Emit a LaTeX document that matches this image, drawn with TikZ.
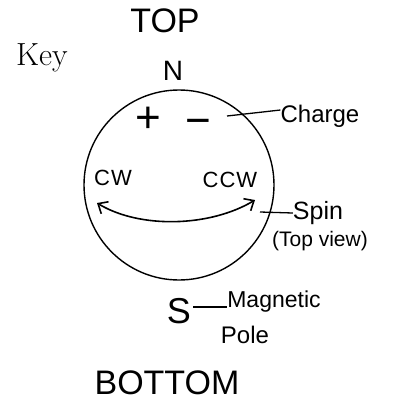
\documentclass[tikz,border=0pt]{standalone}
\usepackage{fontspec}
\newfontfamily\hand{Liberation Sans}
\usetikzlibrary{arrows.meta}
\tikzset{
  hw/.style={font=\hand\fontsize{#1}{#1}\selectfont, inner sep=0pt, anchor=center},
  lead/.style={line width=1.3pt},
}
\begin{document}
\begin{tikzpicture}[x=1pt,y=-1pt]
\useasboundingbox (0,0) rectangle (395,405);
% Key
\node[font=\fontsize{32}{36}\selectfont, inner sep=0pt] (key) at (42,58) {Key};
% Titles
\node[hw=34] (top) at (165,21) {TOP};
\node[hw=34] (bottom) at (167,383) {BOTTOM};
% Ball
\node[draw, circle, line width=1.4pt, minimum size=190pt, inner sep=0pt] (ball) at (179,185) {};
\node[hw=28] (N) at (173,71) {N};
\node[hw=36] (S) at (179,311) {S};
% Charge
\node[hw=44] (plus) at (148,120) {+};
\node[hw=44] (minus) at (198,127) {\char"2212};
\node[hw=24] (charge) at (320,116) {Charge};
\coordinate (chg) at (227,116);
\draw[lead] (chg) -- ([yshift=6pt]charge.west);
% Spin
\node[hw=22] (cw) at (113,178) {C\kern1ptW};
\node[hw=22] (ccw) at (230,180) {C\kern1ptC\kern1ptW};
\coordinate (a1) at (97,203);
\coordinate (a2) at (255,200);
\draw[line width=1.6pt, {Straight Barb[length=8pt,width=14pt,line width=1.6pt]}-{Straight Barb[length=8pt,width=14pt,line width=1.6pt]}]
  (a1) .. controls (140,229) and (210,227) .. (a2);
\node[hw=25] (spin) at (318,213) {Spin};
\node[hw=21] (topview) at (320,241) {(Top view)};
\coordinate (spn) at (260,212);
\draw[lead] (spn) -- (spin.west);
% Magnetic pole
\node[hw=23] (mag) at (274,302) {Magnetic};
\node[hw=24] (pole) at (245,335) {Pole};
\draw[lead] ([yshift=4pt]S.east) ++(2,0) coordinate (s1) -- (s1 -| mag.west);
\end{tikzpicture}
\end{document}
